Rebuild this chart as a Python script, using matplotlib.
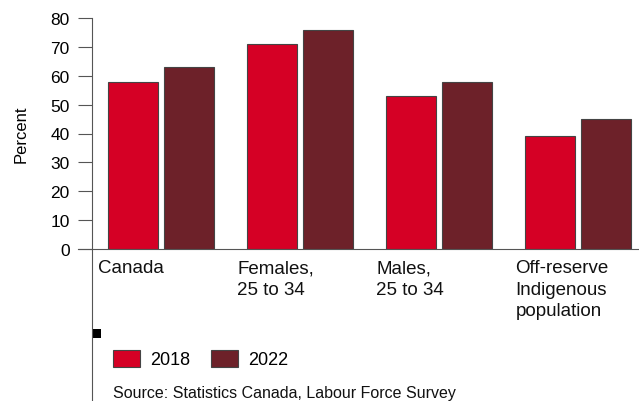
import numpy as np
import matplotlib.pyplot as plt
from matplotlib.lines import Line2D
from matplotlib.patches import Rectangle

plt.rcParams['font.family'] = ['Liberation Sans', 'DejaVu Sans']

categories = ["Canada", "Females,\n25 to 34", "Males,\n25 to 34",
              "Off-reserve\nIndigenous\npopulation"]
years = ["2018", "2022"]
values_2018 = [58, 71, 53, 39]
values_2022 = [63, 76, 58, 45]
colors = ["#d50025", "#6d2129"]
edge = "#444444"

W, H = 639, 402
fig = plt.figure(figsize=(W / 100, H / 100), dpi=100)

# axes placed in pixel terms: y axis at x=92, baseline at y=250, top (80) at y=19
ax = fig.add_axes([92 / W, (H - 250) / H, (W - 92) / W, (250 - 19) / H])

x = np.arange(len(categories))
bw = 0.36
off = 0.2
ax.bar(x - off, values_2018, bw, color=colors[0], edgecolor=edge, linewidth=0.8, zorder=2)
ax.bar(x + off, values_2022, bw, color=colors[1], edgecolor=edge, linewidth=0.8, zorder=2)

ax.set_xlim(-0.496, 3.44)
ax.set_ylim(0, 80)
ax.set_yticks(range(0, 81, 10))
ax.tick_params(axis='y', length=10, width=0.8, color="#555555", labelsize=12.5, pad=6)
ax.set_xticks([])
for s in ["top", "right", "left"]:
    ax.spines[s].set_visible(False)
ax.spines["bottom"].set_color("#555555")
ax.spines["bottom"].set_linewidth(0.8)
ax.set_ylabel("Percent", fontsize=12, labelpad=16)

# category labels, left aligned under each pair
for xi, lab in zip(x, categories):
    ax.text(xi - off - bw / 2 - 0.07, -3.5, lab, ha="left", va="top",
            fontsize=13.5, linespacing=1.36, color="#111111")

# y axis line runs down through the label area
fig.add_artist(Line2D([92 / W, 92 / W], [0, (H - 19) / H],
                      color="#555555", linewidth=0.8))
# baseline stub to the left of the axis
fig.add_artist(Line2D([78 / W, 92 / W], [(H - 250) / H] * 2,
                      color="#555555", linewidth=0.8))

# small black marker on the axis
fig.add_artist(Rectangle((92 / W, (H - 339) / H), 9 / W, 9 / H,
                         facecolor="black", edgecolor="none"))

# legend
handles = [Rectangle((0, 0), 1, 1, facecolor=c, edgecolor=edge, linewidth=0.8)
           for c in colors]
fig.legend(handles, years, loc="center left", bbox_to_anchor=(113 / W, (H - 360) / H),
           ncol=2, frameon=False, fontsize=13, handlelength=1.5, handleheight=1.1,
           handletextpad=0.55, columnspacing=1.15, borderpad=0, borderaxespad=0)

fig.text(113 / W, (H - 394) / H, "Source: Statistics Canada, Labour Force Survey",
         fontsize=11.5, ha="left", va="center", color="#111111")

fig.savefig("out.png", dpi=100)
